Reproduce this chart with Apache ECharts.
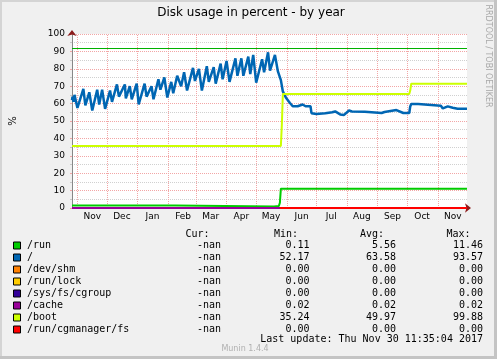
<!DOCTYPE html>
<html><head><meta charset="utf-8">
<script src="https://cdn.jsdelivr.net/npm/echarts@6/dist/echarts.min.js"></script>
<style>html,body{margin:0;padding:0;background:#f0f0f0}#c{width:497px;height:359px}</style>
</head><body><div id="c"></div>
<script>
// ---------- data ----------
const rangeStart = '2016-10-26 11:35';
const rangeEnd = '2017-11-30 11:35';
const monthStarts = ['2016-11-01','2016-12-01','2017-01-01','2017-02-01','2017-03-01','2017-04-01','2017-05-01','2017-06-01','2017-07-01','2017-08-01','2017-09-01','2017-10-01','2017-11-01'];
const monthNames = ['Nov','Dec','Jan','Feb','Mar','Apr','May','Jun','Jul','Aug','Sep','Oct','Nov'];
const warningLevel = 92;

const seriesNames = ['/run','/','/dev/shm','/run/lock','/sys/fs/cgroup','/cache','/boot','/run/cgmanager/fs'];
const seriesColors = ['#00cc00','#0066b3','#ff8000','#ffcc00','#330099','#990099','#ccff00','#ff0000'];
const curValues = ['-nan','-nan','-nan','-nan','-nan','-nan','-nan','-nan'];
const minValues = ['0.11','52.17','0.00','0.00','0.00','0.02','35.24','0.00'];
const avgValues = ['5.56','63.58','0.00','0.00','0.00','0.02','49.97','0.00'];
const maxValues = ['11.46','93.57','0.00','0.00','0.00','0.02','99.88','0.00'];

const runData = [
 ['2016-10-26 12:00',1.5],['2017-02-08',1.5],['2017-02-09',0.9],['2017-05-19',0.9],['2017-05-20',1.4],
 ['2017-05-24',1.2],['2017-05-25',3],['2017-05-26',11.1],
 ['2017-06-15',11.1],['2017-06-16',10.6],['2017-06-17',11.1],
 ['2017-06-22',11.1],['2017-06-23',10.6],['2017-06-24',11.1],
 ['2017-07-24',11.1],['2017-07-25',10.6],['2017-07-26',11.1],
 ['2017-08-02',11.1],['2017-08-03',10.6],['2017-08-04',11.1],
 ['2017-09-19',11.1],['2017-09-20',10.6],['2017-09-21',11.1],
 ['2017-10-04',11.1],['2017-10-05',10.6],['2017-10-06',11.1],
 ['2017-10-23',11.1],['2017-10-24',10.6],['2017-10-25',11.1],
 ['2017-11-02',11.1],['2017-11-03',10.6],['2017-11-04',11.1],
 ['2017-11-13',11.1],['2017-11-14',10.6],['2017-11-15',11.1],
 ['2017-11-24',11.1],['2017-11-25',10.6],['2017-11-26',11.1],
 ['2017-11-30 11:00',11.1]
];
const rootData = [
 ['2016-10-26 12:00',62],['2016-10-27',64],['2016-10-28',61],['2016-10-29',65],['2016-11-01',57.5],
 ['2016-11-07',68.5],['2016-11-09',59],['2016-11-13',66.5],['2016-11-16',56],['2016-11-21',68],
 ['2016-11-23',59.5],['2016-11-26',68],['2016-11-29',57],['2016-12-04',67.5],['2016-12-06',61],
 ['2016-12-11',71],['2016-12-13',64],['2016-12-19',71],['2016-12-20',63],['2016-12-24',70],
 ['2016-12-26',62.5],['2016-12-31',71.5],['2017-01-02',59.5],['2017-01-08',71.5],['2017-01-10',64],
 ['2017-01-15',70],['2017-01-17',62.5],['2017-01-22',74],['2017-01-24',68],['2017-01-28',75],
 ['2017-01-31',63.5],['2017-02-04',72.5],['2017-02-06',66],['2017-02-10',76],['2017-02-14',70],
 ['2017-02-17',78],['2017-02-20',67.5],['2017-02-26',80.5],['2017-02-28',73],['2017-03-04',80],
 ['2017-03-07',67.5],['2017-03-12',81.5],['2017-03-14',72.5],['2017-03-19',81],['2017-03-21',71.5],
 ['2017-03-26',83],['2017-03-28',74],['2017-04-01',84.5],['2017-04-04',72.5],['2017-04-10',86],
 ['2017-04-12',76],['2017-04-16',86],['2017-04-18',76],['2017-04-23',87],['2017-04-25',77],
 ['2017-04-28',88],['2017-05-01',72],['2017-05-07',85.5],['2017-05-09',78],['2017-05-13',89.5],
 ['2017-05-15',79],['2017-05-20',88],['2017-05-23',78.5],['2017-05-24',78],['2017-05-26',73.5],
 ['2017-05-28',67],['2017-05-31',63.5],['2017-06-04',60.5],['2017-06-07',58.5],['2017-06-12',58.5],
 ['2017-06-17',59.5],['2017-06-20',58.5],['2017-06-25',58.5],['2017-06-26',54.5],['2017-07-01',54],
 ['2017-07-10',54.5],['2017-07-17',55],['2017-07-20',55.5],['2017-07-25',53.8],['2017-07-29',53.5],
 ['2017-08-03',56],['2017-08-06',55.5],['2017-08-19',55.3],['2017-09-05',54.6],['2017-09-08',55.2],
 ['2017-09-20',56.3],['2017-09-22',55.8],['2017-09-27',54.6],['2017-10-03',54.6],['2017-10-04',58.4],
 ['2017-10-05',59.7],['2017-10-12',59.7],['2017-10-13',58.8],['2017-11-04',58.8],['2017-11-06',57.2],
 ['2017-11-11',58.4],['2017-11-16',57.6],['2017-11-21',57],['2017-11-30 11:00',57]
];
const devShmData = [['2016-10-26 12:00',0],['2017-11-30 11:00',0]];
const runLockData = [['2016-10-26 12:00',0],['2017-11-30 11:00',0]];
const cgroupData = [['2016-10-26 12:00',0],['2017-11-30 11:00',0]];
const cacheData = [['2016-10-26 12:00',0.02],['2017-05-25',0.02]];
const bootData = [
 ['2016-10-26 12:00',35.6],['2017-05-26',35.6],['2017-05-27',48],['2017-05-28',65.5],
 ['2017-10-03',65.5],['2017-10-04',67.5],['2017-10-05',71.4],['2017-11-30 11:00',71.4]
];
const cgmanagerData = [['2017-05-25',0],['2017-11-30 11:00',0]];
const allData = [runData, rootData, devShmData, runLockData, cgroupData, cacheData, bootData, cgmanagerData];

// ---------- helpers ----------
function toTime(s){
  const parts = s.split(' ');
  const d = parts[0].split('-').map(Number);
  const t = (parts[1] || '00:00').split(':').map(Number);
  return new Date(d[0], d[1]-1, d[2], t[0], t[1]).getTime();
}
const DAY = 86400000;

const chart = echarts.init(document.getElementById('c'), null, {renderer:'canvas'});
const SANS = 'DejaVu Sans';
const gridPink = '#f2a6a6';

const series = allData.map((data, i) => ({
  type: 'line',
  name: seriesNames[i],
  data: data.map(p => [toTime(p[0]), p[1]]),
  showSymbol: false, symbol: 'none',
  lineStyle: { color: seriesColors[i], width: i === 1 ? 2.5 : 2 },
  itemStyle: { color: seriesColors[i] },
  clip: false,
  z: 5,
  animation: false,
  silent: true
}));
series[0].markLine = {
  silent: true, symbol: ['none','none'], animation: false,
  label: { show: false },
  lineStyle: { color: '#00b000', width: 1, type: 'solid' },
  data: [{ yAxis: warningLevel }]
};
// month grid lines and month labels (carried by the hidden /dev/shm line)
series[2].z = 1;
series[2].markLine = {
  silent: true, symbol: ['none','none'], animation: false,
  data: monthStarts.map(d => ({
    xAxis: toTime(d),
    lineStyle: { color: gridPink, type: [1,1], width: 1 },
    label: { show: false }
  })).concat(monthStarts.map((d, i) => ({
    xAxis: toTime(d) + 15 * DAY,
    name: monthNames[i],
    lineStyle: { color: 'rgba(0,0,0,0)', width: 1 },
    label: { show: true, position: 'start', formatter: '{b}', distance: 4,
             color: '#000', fontSize: 9, fontFamily: SANS }
  })))
};

// frame, titles and legend table graphics
const graphics = [];
graphics.push({ type:'rect', z: -10, shape: { x: 0, y: 0, width: 497, height: 2 }, style: { fill: '#d4d4d4' } });
graphics.push({ type:'rect', z: -10, shape: { x: 0, y: 0, width: 2, height: 359 }, style: { fill: '#d4d4d4' } });
graphics.push({ type:'rect', z: -10, shape: { x: 494, y: 0, width: 3, height: 359 }, style: { fill: '#c4c4c4' } });
graphics.push({ type:'rect', z: -10, shape: { x: 0, y: 356, width: 497, height: 3 }, style: { fill: '#c4c4c4' } });
graphics.push({ type:'text', x: 251, y: 13, style: { text: 'Disk usage in percent - by year', font: '12px "DejaVu Sans"', fill: '#000', textAlign: 'center', textVerticalAlign: 'middle' } });
graphics.push({ type:'text', x: 488, y: 56, rotation: -Math.PI/2, style: { text: 'RRDTOOL / TOBI OETIKER', font: '8px "DejaVu Sans"', fill: '#a8a8a8', textAlign: 'center', textVerticalAlign: 'middle' } });
const headY = 234.5;
[['Cur:',185.5],['Min:',274],['Avg:',360],['Max:',446.5]].forEach(h => {
  graphics.push({ type:'text', x: h[1], y: headY, style: { text: h[0], font: '10px "DejaVu Sans Mono"', fill: '#000', textAlign: 'left', textVerticalAlign: 'middle' } });
});
seriesNames.forEach((n, i) => {
  const y = 245.5 + 12 * i;
  graphics.push({ type:'rect', shape: { x: 13.5, y: y - 3.5, width: 7, height: 7 }, style: { fill: seriesColors[i], stroke: '#000', lineWidth: 1 } });
  graphics.push({ type:'text', x: 27, y: y, style: { text: n, font: '10px "DejaVu Sans Mono"', fill: '#000', textAlign: 'left', textVerticalAlign: 'middle' } });
  [[curValues,221],[minValues,309.5],[avgValues,396],[maxValues,483]].forEach(c => {
    graphics.push({ type:'text', x: c[1], y: y, style: { text: c[0][i], font: '10px "DejaVu Sans Mono"', fill: '#000', textAlign: 'right', textVerticalAlign: 'middle' } });
  });
});
graphics.push({ type:'text', x: 483, y: 339.5, style: { text: 'Last update: Thu Nov 30 11:35:04 2017', font: '10px "DejaVu Sans Mono"', fill: '#000', textAlign: 'right', textVerticalAlign: 'middle' } });
graphics.push({ type:'text', x: 245, y: 348.5, z: -1, style: { text: 'Munin 1.4.4', font: '8px "DejaVu Sans"', fill: '#b0b0b0', textAlign: 'center', textVerticalAlign: 'middle' } });

chart.setOption({
  backgroundColor: '#f0f0f0',
  animation: false,
  grid: { left: 67, right: 30, top: 34, bottom: 151, show: true, backgroundColor: '#ffffff', borderWidth: 0, containLabel: false },
  xAxis: [{
    type: 'time', min: toTime(rangeStart), max: toTime(rangeEnd),
    axisLabel: { show: false }, axisTick: { show: false }, splitLine: { show: false },
    axisLine: { show: true, lineStyle: { color: '#888', width: 1 } }
  }, {
    type: 'time', min: toTime(rangeStart), max: toTime(rangeEnd), position: 'bottom',
    axisLabel: { show: false }, axisTick: { show: false }, splitLine: { show: false },
    axisLine: { show: true, symbol: ['none','arrow'], symbolSize: [7,6], symbolOffset: [0,4], lineStyle: { color: '#8b1a1a', width: 0.01 } }
  }],
  yAxis: [{
    type: 'value', min: 0, max: 100, interval: 10,
    name: '%', nameLocation: 'middle', nameGap: 54, nameRotate: 90,
    nameTextStyle: { fontFamily: SANS, fontSize: 10, color: '#000' },
    axisLabel: { fontFamily: SANS, fontSize: 9, color: '#000', margin: 7 },
    axisTick: { show: true, length: 2, inside: false, lineStyle: { color: gridPink } },
    minorTick: { show: true, splitNumber: 2, length: 2, lineStyle: { color: '#c8c8c8' } },
    splitLine: { show: true, lineStyle: { color: gridPink, type: [1,1], width: 1 } },
    minorSplitLine: { show: true, lineStyle: { color: '#d0d0d0', type: [1,1], width: 1 } },
    axisLine: { show: true, lineStyle: { color: '#888', width: 1 } }
  }, {
    type: 'value', min: 0, max: 100, position: 'left',
    axisLabel: { show: false }, axisTick: { show: false }, splitLine: { show: false },
    axisLine: { show: true, symbol: ['none','arrow'], symbolSize: [7,6], symbolOffset: [0,4], lineStyle: { color: '#8b1a1a', width: 0.01 } }
  }],
  series: series,
  graphic: graphics
});
</script></body></html>
